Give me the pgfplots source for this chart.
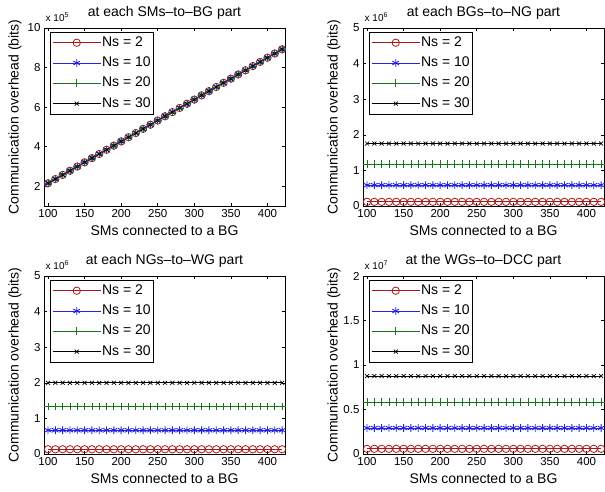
\documentclass[border=0pt]{standalone}
\usepackage{pgfplots}
\pgfplotsset{compat=1.18}
\usepackage{pgfplotstable}
\usepackage{fontspec}
\setmainfont{Liberation Sans}

\definecolor{mred}{RGB}{170,25,25}
\definecolor{mblue}{RGB}{35,35,225}
\definecolor{mgreen}{RGB}{25,115,25}

\pgfplotstableread{
x tl tr2 tr10 tr20 tr30 bl2 bl10 bl20 bl30 br2 br10 br20 br30
100 2.150 0.117 0.585 1.170 1.755 0.133 0.667 1.333 2.000 0.058 0.292 0.584 0.876
110 2.362 0.117 0.585 1.170 1.755 0.133 0.667 1.333 2.000 0.058 0.292 0.584 0.876
120 2.573 0.117 0.585 1.170 1.755 0.133 0.667 1.333 2.000 0.058 0.292 0.584 0.876
130 2.785 0.117 0.585 1.170 1.755 0.133 0.667 1.333 2.000 0.058 0.292 0.584 0.876
140 2.996 0.117 0.585 1.170 1.755 0.133 0.667 1.333 2.000 0.058 0.292 0.584 0.876
150 3.208 0.117 0.585 1.170 1.755 0.133 0.667 1.333 2.000 0.058 0.292 0.584 0.876
160 3.420 0.117 0.585 1.170 1.755 0.133 0.667 1.333 2.000 0.058 0.292 0.584 0.876
170 3.631 0.117 0.585 1.170 1.755 0.133 0.667 1.333 2.000 0.058 0.292 0.584 0.876
180 3.843 0.117 0.585 1.170 1.755 0.133 0.667 1.333 2.000 0.058 0.292 0.584 0.876
190 4.054 0.117 0.585 1.170 1.755 0.133 0.667 1.333 2.000 0.058 0.292 0.584 0.876
200 4.266 0.117 0.585 1.170 1.755 0.133 0.667 1.333 2.000 0.058 0.292 0.584 0.876
210 4.478 0.117 0.585 1.170 1.755 0.133 0.667 1.333 2.000 0.058 0.292 0.584 0.876
220 4.689 0.117 0.585 1.170 1.755 0.133 0.667 1.333 2.000 0.058 0.292 0.584 0.876
230 4.901 0.117 0.585 1.170 1.755 0.133 0.667 1.333 2.000 0.058 0.292 0.584 0.876
240 5.112 0.117 0.585 1.170 1.755 0.133 0.667 1.333 2.000 0.058 0.292 0.584 0.876
250 5.324 0.117 0.585 1.170 1.755 0.133 0.667 1.333 2.000 0.058 0.292 0.584 0.876
260 5.536 0.117 0.585 1.170 1.755 0.133 0.667 1.333 2.000 0.058 0.292 0.584 0.876
270 5.747 0.117 0.585 1.170 1.755 0.133 0.667 1.333 2.000 0.058 0.292 0.584 0.876
280 5.959 0.117 0.585 1.170 1.755 0.133 0.667 1.333 2.000 0.058 0.292 0.584 0.876
290 6.170 0.117 0.585 1.170 1.755 0.133 0.667 1.333 2.000 0.058 0.292 0.584 0.876
300 6.382 0.117 0.585 1.170 1.755 0.133 0.667 1.333 2.000 0.058 0.292 0.584 0.876
310 6.594 0.117 0.585 1.170 1.755 0.133 0.667 1.333 2.000 0.058 0.292 0.584 0.876
320 6.805 0.117 0.585 1.170 1.755 0.133 0.667 1.333 2.000 0.058 0.292 0.584 0.876
330 7.017 0.117 0.585 1.170 1.755 0.133 0.667 1.333 2.000 0.058 0.292 0.584 0.876
340 7.228 0.117 0.585 1.170 1.755 0.133 0.667 1.333 2.000 0.058 0.292 0.584 0.876
350 7.440 0.117 0.585 1.170 1.755 0.133 0.667 1.333 2.000 0.058 0.292 0.584 0.876
360 7.652 0.117 0.585 1.170 1.755 0.133 0.667 1.333 2.000 0.058 0.292 0.584 0.876
370 7.863 0.117 0.585 1.170 1.755 0.133 0.667 1.333 2.000 0.058 0.292 0.584 0.876
380 8.075 0.117 0.585 1.170 1.755 0.133 0.667 1.333 2.000 0.058 0.292 0.584 0.876
390 8.286 0.117 0.585 1.170 1.755 0.133 0.667 1.333 2.000 0.058 0.292 0.584 0.876
400 8.498 0.117 0.585 1.170 1.755 0.133 0.667 1.333 2.000 0.058 0.292 0.584 0.876
410 8.710 0.117 0.585 1.170 1.755 0.133 0.667 1.333 2.000 0.058 0.292 0.584 0.876
420 8.921 0.117 0.585 1.170 1.755 0.133 0.667 1.333 2.000 0.058 0.292 0.584 0.876
}\data

\tikzset{expo/.style={anchor=base west, inner sep=0pt, xshift=1.5pt, yshift=7pt, font=\fontsize{10}{12}\selectfont}}

\pgfplotsset{
  mylegend/.style={legend image code/.code={\draw[mark repeat=2,mark phase=2,##1] plot coordinates {(0pt,0pt) (24pt,0pt) (48pt,0pt)};}},
  panel/.style={
    scale only axis, width=241pt, height=178pt,
    anchor=south west,
    xmin=94.5, xmax=424,
    xtick={100,150,...,400},
    scaled ticks=false,
    clip=false,
    tick align=inside, major tick length=3pt,
    axis line style={line width=0.6pt, black},
    every tick/.style={black, line width=0.5pt},
    /pgf/number format/assume math mode=true,
    tick label style={font=\fontsize{11.5}{13}\selectfont},
    xlabel={SMs connected to a BG},
    ylabel={Communication overhead (bits)},
    label style={font=\fontsize{14}{16}\selectfont},
    xlabel style={at={(axis description cs:0.5,-0.14)}, anchor=center},
    ylabel style={at={(axis description cs:-0.12,0.5)}, anchor=center},
    title style={at={(axis description cs:0.5,1)}, anchor=center, yshift=9pt, font=\fontsize{14}{16}\selectfont},
    legend style={at={(axis description cs:0.025,0.978)}, anchor=north west,
      draw=black, line width=0.6pt, fill=white,
      font=\fontsize{14}{16}\selectfont,
      inner xsep=2pt, inner ysep=3pt,
      nodes={inner sep=1pt, text height=10pt, text depth=3pt},
      row sep=5.3pt},
    legend cell align=left,
  },
  s2/.style={mylegend, color=mred, line width=0.8pt, mark=o, mark size=3.7pt, mark options={solid, line width=0.8pt}},
  s10/.style={mylegend, color=mblue, line width=0.8pt, mark=asterisk, mark size=3.8pt, mark options={solid, line width=0.9pt}},
  s20/.style={mylegend, color=mgreen, line width=0.8pt, mark=+, mark size=3.9pt, mark options={solid, line width=0.8pt}},
  s30/.style={mylegend, color=black, line width=0.8pt, mark=x, mark size=2.8pt, mark options={solid, line width=0.7pt}},
}

\begin{document}
\begin{tikzpicture}[x=1pt,y=1pt]
% top left
\begin{axis}[panel, at={(44pt,285pt)}, ymin=1, ymax=10, ytick={2,4,...,10},
  title={at each SMs--to--BG part}]
\addplot[s2] table[x=x,y=tl]{\data}; \addlegendentry{Ns = 2}
\addplot[s10] table[x=x,y=tl]{\data}; \addlegendentry{Ns = 10}
\addplot[s20] table[x=x,y=tl]{\data}; \addlegendentry{Ns = 20}
\addplot[s30] table[x=x,y=tl]{\data}; \addlegendentry{Ns = 30}
\node[expo] at (rel axis cs:0,1) {x 10\textsuperscript{5}};
\end{axis}
% top right
\begin{axis}[panel, at={(363pt,285pt)}, ymin=0, ymax=5, ytick={0,1,...,5},
  title={at each BGs--to--NG part}]
\addplot[s2] table[x=x,y=tr2]{\data}; \addlegendentry{Ns = 2}
\addplot[s10] table[x=x,y=tr10]{\data}; \addlegendentry{Ns = 10}
\addplot[s20] table[x=x,y=tr20]{\data}; \addlegendentry{Ns = 20}
\addplot[s30] table[x=x,y=tr30]{\data}; \addlegendentry{Ns = 30}
\node[expo] at (rel axis cs:0,1) {x 10\textsuperscript{6}};
\end{axis}
% bottom left
\begin{axis}[panel, at={(44pt,37pt)}, ymin=0, ymax=5, ytick={0,1,...,5},
  title={at each NGs--to--WG part}]
\addplot[s2] table[x=x,y=bl2]{\data}; \addlegendentry{Ns = 2}
\addplot[s10] table[x=x,y=bl10]{\data}; \addlegendentry{Ns = 10}
\addplot[s20] table[x=x,y=bl20]{\data}; \addlegendentry{Ns = 20}
\addplot[s30] table[x=x,y=bl30]{\data}; \addlegendentry{Ns = 30}
\node[expo] at (rel axis cs:0,1) {x 10\textsuperscript{6}};
\end{axis}
% bottom right
\begin{axis}[panel, at={(363pt,37pt)}, ymin=0, ymax=2, ytick={0,0.5,1,1.5,2},
  title={at the WGs--to--DCC part}]
\addplot[s2] table[x=x,y=br2]{\data}; \addlegendentry{Ns = 2}
\addplot[s10] table[x=x,y=br10]{\data}; \addlegendentry{Ns = 10}
\addplot[s20] table[x=x,y=br20]{\data}; \addlegendentry{Ns = 20}
\addplot[s30] table[x=x,y=br30]{\data}; \addlegendentry{Ns = 30}
\node[expo] at (rel axis cs:0,1) {x 10\textsuperscript{7}};
\end{axis}
\pgfresetboundingbox
\path[use as bounding box] (0,0) rectangle (605,491);
\end{tikzpicture}
\end{document}
